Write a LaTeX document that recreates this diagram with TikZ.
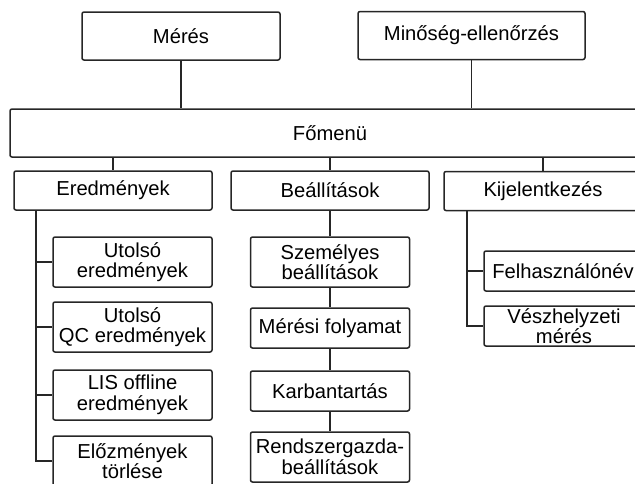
\documentclass[tikz,border=0pt]{standalone}
\usepackage{fontspec}
\setmainfont{Liberation Sans}[Ligatures=NoCommon]
\usetikzlibrary{positioning}
\begin{document}
\begin{tikzpicture}[x=0.5pt,y=-0.5pt,font=\fontsize{10.1}{10.3}\selectfont,
  box/.style={draw=black!85,line width=0.75pt,rounded corners=1pt,align=center,inner sep=0pt},
  topbox/.style={box,minimum height=24pt},
  menubox/.style={box,minimum width=99pt,minimum height=19.5pt},
  subbox/.style={box,minimum width=79.5pt,minimum height=25pt},
  thinbox/.style={subbox,minimum height=20pt},
  link/.style={draw=black!85,line width=0.75pt}]
\useasboundingbox (0,0) rectangle (635,483);
\clip (0,0) rectangle (635,483);
% top row
\node[topbox,minimum width=99pt] (meres) at (181,36) {Mérés};
\node[topbox,minimum width=113.5pt] (minoseg) at (471.5,35.5) {Minőség-ellenőrzés};
\node[topbox,minimum width=320pt] (fomenu) at (330,133) {Főmenü};
% menu row
\node[menubox] (eredm) at (113,190.5) {Eredmények};
\node[menubox] (beall) at (330,190.5) {Beállítások};
\node[menubox] (kijel) at (543,191) {Kijelentkezés};
% Eredmények
\node[subbox] (utolso) at (132.5,262) {Utolsó\\eredmények};
\node[subbox] (qc) at (132.5,327) {Utolsó\\QC eredmények};
\node[subbox] (lis) at (132.5,395) {LIS offline\\eredmények};
\node[subbox] (elozm) at (132.5,461) {Előzmények\\törlése};
% Beállítások
\node[subbox] (szem) at (330,262) {Személyes\\beállítások};
\node[thinbox] (folyamat) at (330,328) {Mérési folyamat};
\node[thinbox] (karb) at (330,391) {Karbantartás};
\node[subbox] (rendsz) at (330,457) {Rendszergazda-\\beállítások};
% Kijelentkezés
\node[thinbox,minimum width=84pt] (felh) at (568,271) {\hspace*{-5pt}Felhasználónév};
\node[thinbox,minimum width=84pt] (vesz) at (568,326) {\hspace*{-4pt}Vészhelyzeti\\\hspace*{-4pt}mérés};
\coordinate (etrunk) at (36,0);
\coordinate (ktrunk) at (467,0);
% connectors
\draw[link] (meres) -- (meres |- fomenu.north);
\draw[link] (minoseg) -- (minoseg |- fomenu.north);
\foreach \m in {eredm,beall,kijel}
  \draw[link] (\m |- fomenu.south) -- (\m);
\foreach \s in {utolso,qc,lis,elozm}
  \draw[link] (eredm.south -| etrunk) |- (\s.west);
\draw[link] (beall) -- (szem) -- (folyamat) -- (karb) -- (rendsz);
\foreach \s in {felh,vesz}
  \draw[link] (kijel.south -| ktrunk) |- (\s.west);
\end{tikzpicture}
\end{document}
